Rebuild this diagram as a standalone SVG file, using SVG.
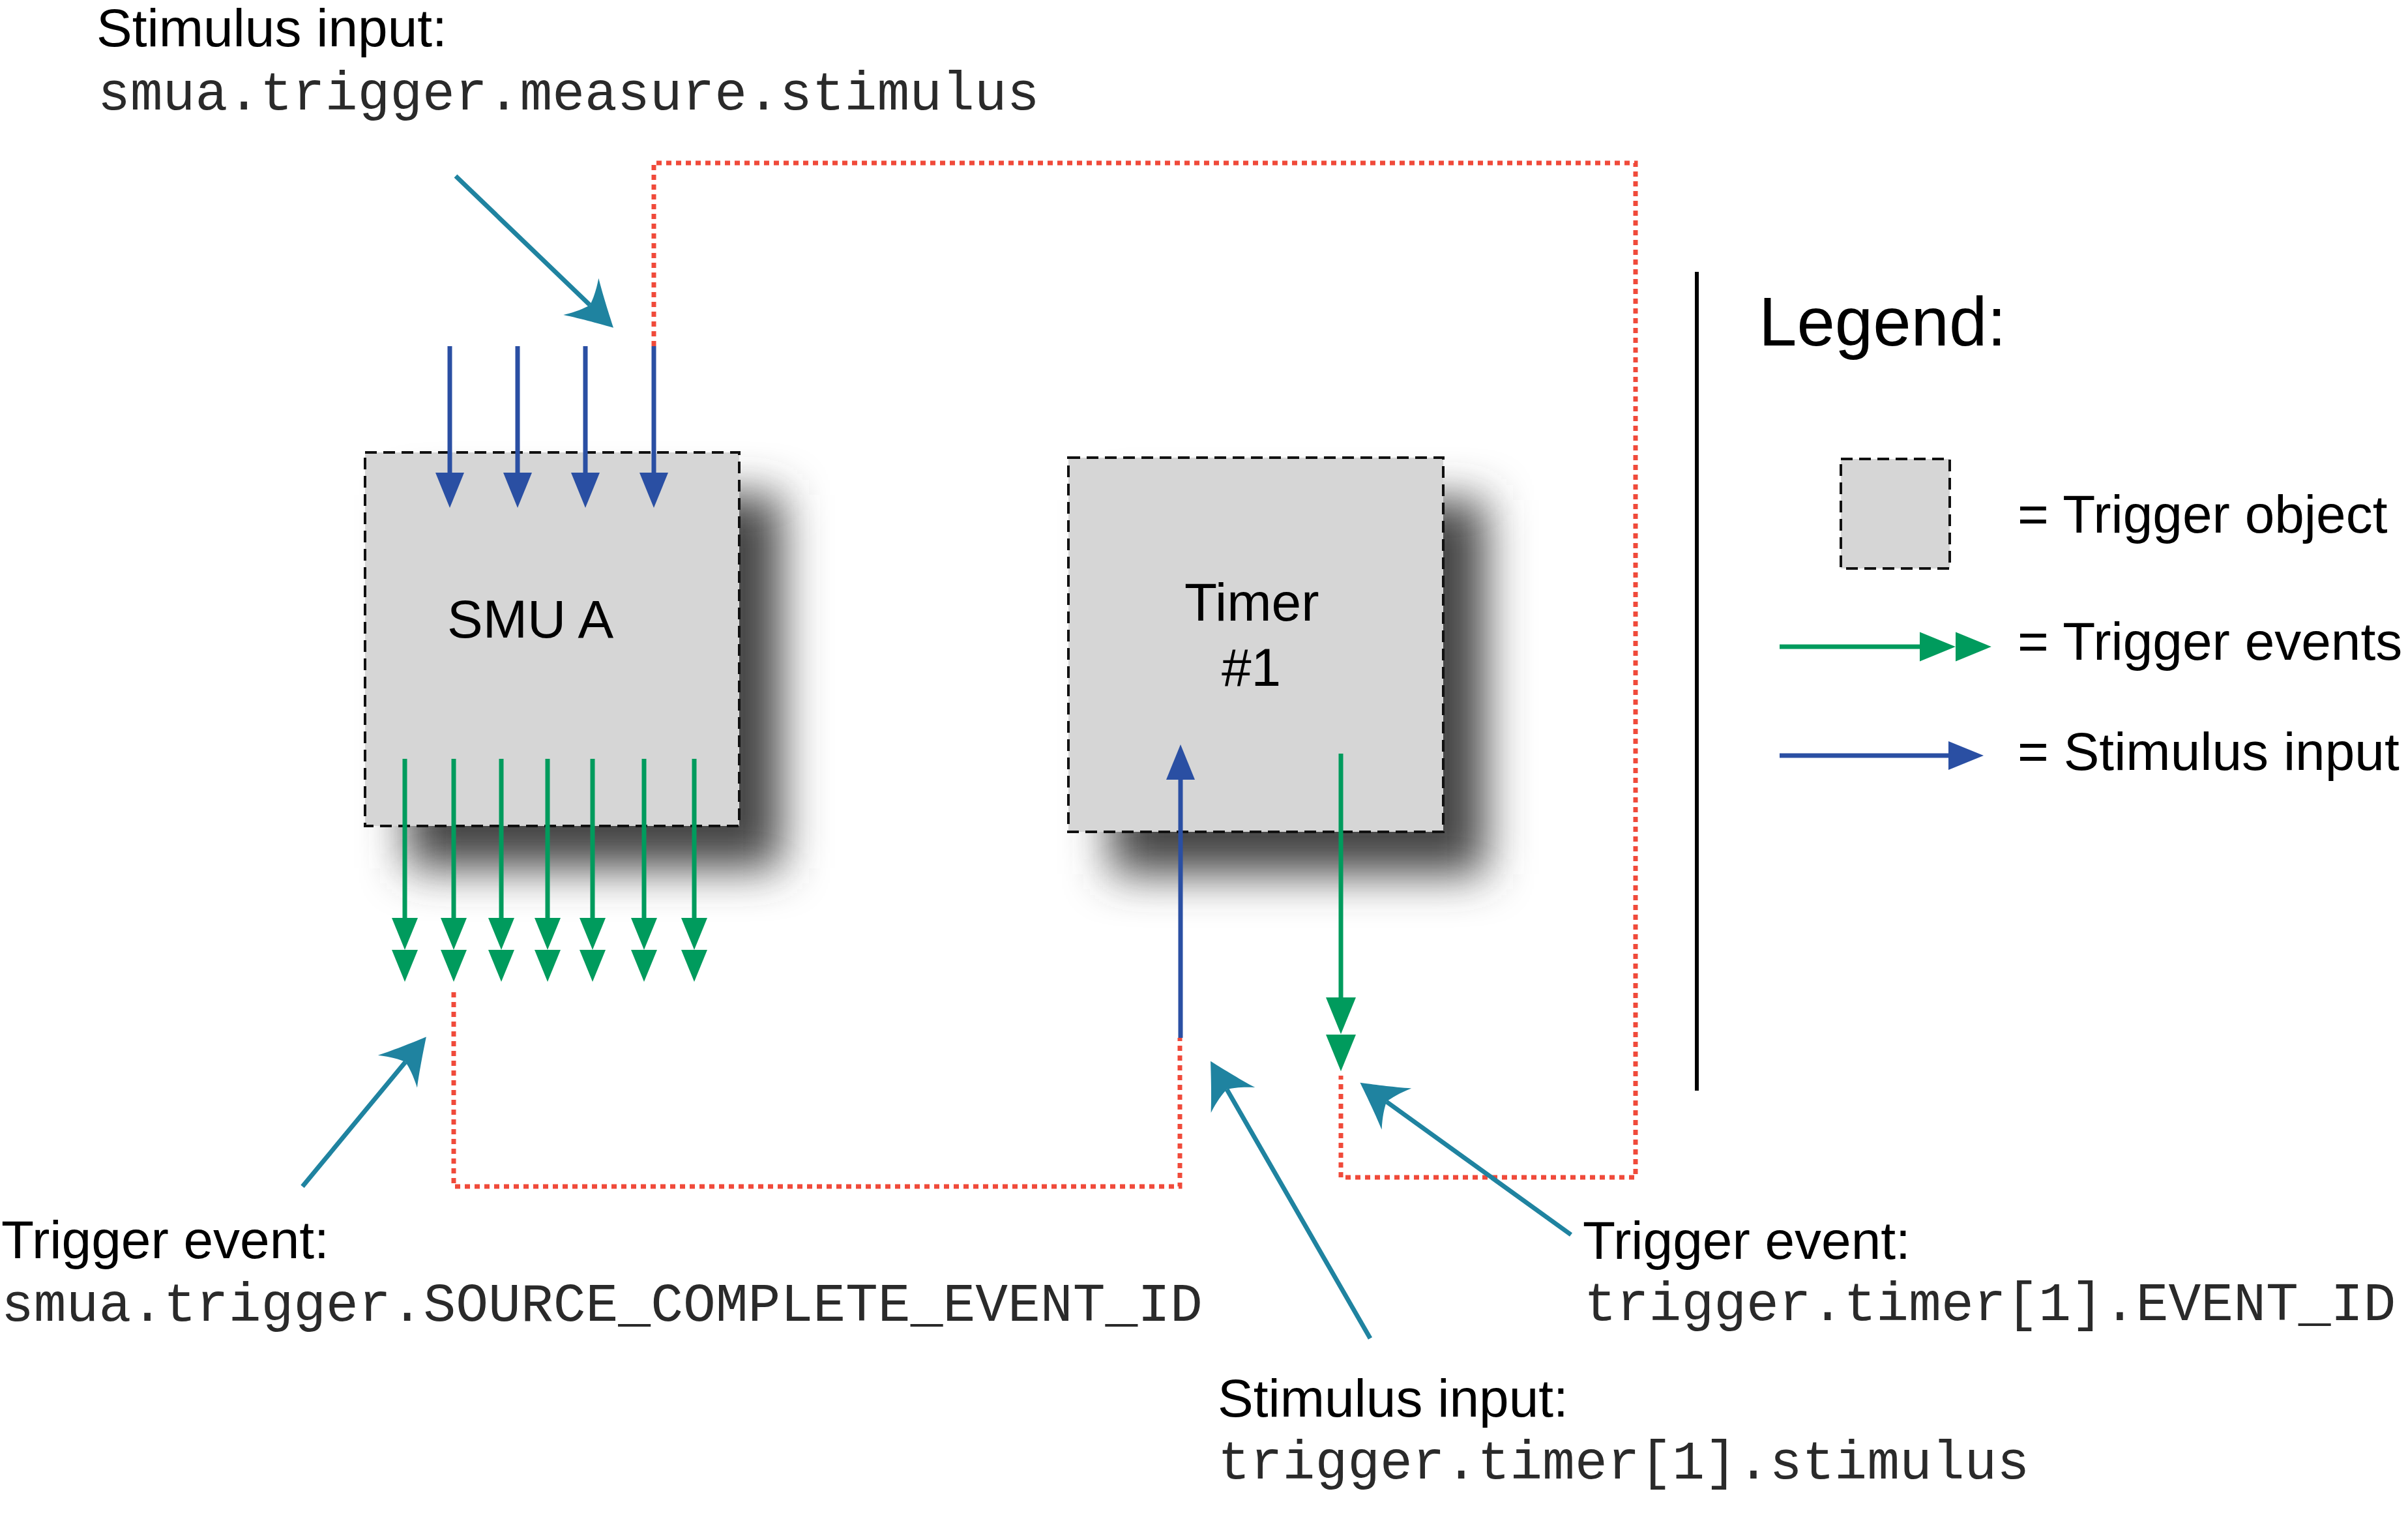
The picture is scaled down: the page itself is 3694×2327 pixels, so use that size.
<svg xmlns="http://www.w3.org/2000/svg" xmlns:xlink="http://www.w3.org/1999/xlink" width="3694" height="2327" viewBox="0 0 3694 2327">
<style>
.box{fill:#d6d6d6;stroke:#111;stroke-width:4;stroke-dasharray:18 10}
.shadow{fill:#454545;filter:url(#blur)}
.blue{stroke:#2a4fa3;stroke-width:7;fill:none}
.green{stroke:#009b5d;stroke-width:7;fill:none}
.bfill{fill:#2a4fa3}
.gfill{fill:#009b5d}
.red{stroke:#f04a3a;stroke-width:7;fill:none;stroke-dasharray:8 7}
.teal{stroke:#1f83a0;stroke-width:7;fill:none;marker-end:url(#swept)}
.sans{font-family:"Liberation Sans",Arial,sans-serif;font-size:82px;fill:#000}
.mono{font-family:"Liberation Mono","Courier New",monospace;font-size:83px;fill:#2a2a2a}
</style>
<defs>
<filter id="blur" x="-50%" y="-50%" width="200%" height="200%"><feGaussianBlur stdDeviation="34"/></filter>
<path id="gh" d="M-20,0 H20 L0,49 Z"/>
<path id="bh" d="M-22,0 H22 L0,54 Z"/>
<marker id="swept" markerUnits="userSpaceOnUse" viewBox="-25 -45 80 90" markerWidth="80" markerHeight="90" refX="0" refY="0" orient="auto">
<path d="M50,0 C35,-8 5,-24 -19,-39 C-8,-22 -3,-10 0,0 C-3,10 -8,22 -19,39 C5,24 35,8 50,0 Z" fill="#1f83a0"/>
</marker>
</defs>
<rect width="3694" height="2327" fill="#fff"/>

<g id="node-smua">
<rect class="shadow" x="625" y="759" width="574" height="573"/>
<rect class="box" x="560" y="694" width="574" height="573"/>
<text class="sans" x="686" y="978">SMU A</text>
</g>

<g id="node-timer">
<rect class="shadow" x="1704" y="767" width="575" height="574"/>
<rect class="box" x="1639" y="702" width="575" height="574"/>
<text class="sans" x="1817" y="952">Timer</text>
<text class="sans" x="1874" y="1052">#1</text>
</g>

<g id="connectors">
<path class="red" d="M1003,531 V250 H2509 V1806 H2057 V1650"/>
<path class="red" d="M696,1522 V1820 H1810 V1592"/>
<g id="smua-stimulus">
<path class="blue" d="M690,531 V727 M794,531 V727 M898,531 V727 M1003,531 V727"/>
<use xlink:href="#bh" class="bfill" transform="translate(690,725)"/>
<use xlink:href="#bh" class="bfill" transform="translate(794,725)"/>
<use xlink:href="#bh" class="bfill" transform="translate(898,725)"/>
<use xlink:href="#bh" class="bfill" transform="translate(1003,725)"/>
</g>
<g id="smua-events">
<path class="green" d="M621,1164 V1410 M696,1164 V1410 M769,1164 V1410 M840,1164 V1410 M909,1164 V1410 M988,1164 V1410 M1065,1164 V1410"/>
<use xlink:href="#gh" class="gfill" transform="translate(621,1408)"/><use xlink:href="#gh" class="gfill" transform="translate(621,1457)"/>
<use xlink:href="#gh" class="gfill" transform="translate(696,1408)"/><use xlink:href="#gh" class="gfill" transform="translate(696,1457)"/>
<use xlink:href="#gh" class="gfill" transform="translate(769,1408)"/><use xlink:href="#gh" class="gfill" transform="translate(769,1457)"/>
<use xlink:href="#gh" class="gfill" transform="translate(840,1408)"/><use xlink:href="#gh" class="gfill" transform="translate(840,1457)"/>
<use xlink:href="#gh" class="gfill" transform="translate(909,1408)"/><use xlink:href="#gh" class="gfill" transform="translate(909,1457)"/>
<use xlink:href="#gh" class="gfill" transform="translate(988,1408)"/><use xlink:href="#gh" class="gfill" transform="translate(988,1457)"/>
<use xlink:href="#gh" class="gfill" transform="translate(1065,1408)"/><use xlink:href="#gh" class="gfill" transform="translate(1065,1457)"/>
</g>
<g id="timer-stimulus">
<path class="blue" d="M1811,1592 V1194"/>
<use xlink:href="#bh" class="bfill" transform="translate(1811,1196) rotate(180)"/>
</g>
<g id="timer-event">
<path class="green" d="M2057,1156 V1532"/>
<use xlink:href="#gh" class="gfill" transform="translate(2057,1530) scale(1.15)"/>
<use xlink:href="#gh" class="gfill" transform="translate(2057,1587) scale(1.15)"/>
</g>
<g id="callouts">
<path class="teal" d="M699,270 L905,468"/>
<path class="teal" d="M464,1820 L622,1629"/>
<path class="teal" d="M2102,2053 L1882,1671"/>
<path class="teal" d="M2410,1894 L2127,1690"/>
</g>
</g>

<g id="labels">
<text class="sans" x="148" y="71">Stimulus input:</text>
<text class="mono" x="150" y="168">smua.trigger.measure.stimulus</text>
<text class="sans" x="2" y="1930">Trigger event:</text>
<text class="mono" x="2" y="2026">smua.trigger.SOURCE_COMPLETE_EVENT_ID</text>
<text class="sans" x="2428" y="1931">Trigger event:</text>
<text class="mono" x="2430" y="2025">trigger.timer[1].EVENT_ID</text>
<text class="sans" x="1868" y="2173">Stimulus input:</text>
<text class="mono" x="1868" y="2268">trigger.timer[1].stimulus</text>
</g>

<g id="legend">
<line x1="2603" y1="417" x2="2603" y2="1673" stroke="#000" stroke-width="6"/>
<text class="sans" x="2698" y="530" style="font-size:105px">Legend:</text>
<rect class="box" x="2824" y="704" width="167" height="168"/>
<text class="sans" x="3095" y="817">= Trigger object</text>
<line class="green" x1="2730" y1="992" x2="2947" y2="992"/>
<use xlink:href="#gh" class="gfill" transform="translate(2945,992) rotate(-90) scale(1.12)"/>
<use xlink:href="#gh" class="gfill" transform="translate(3000,992) rotate(-90) scale(1.12)"/>
<text class="sans" x="3095" y="1012">= Trigger events</text>
<line class="blue" x1="2730" y1="1159" x2="2991" y2="1159"/>
<use xlink:href="#bh" class="bfill" transform="translate(2989,1159) rotate(-90)"/>
<text class="sans" x="3095" y="1181">= Stimulus input</text>
</g>
</svg>
